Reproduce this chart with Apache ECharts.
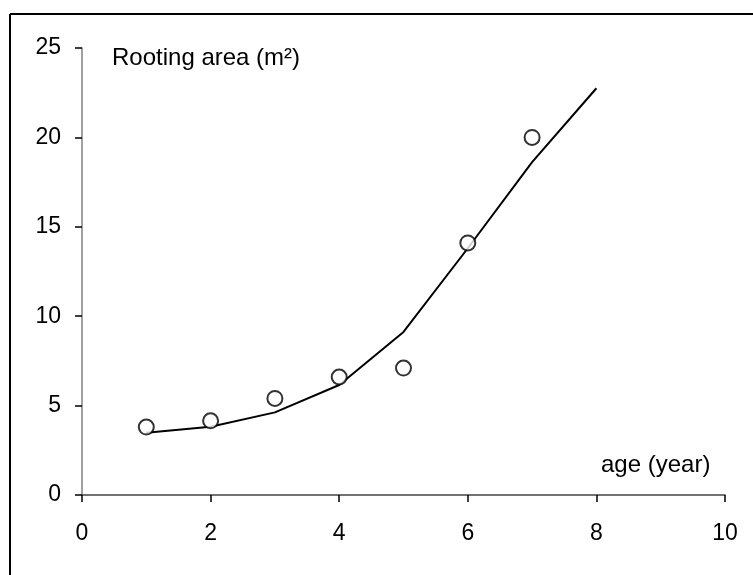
<!DOCTYPE html>
<html>
<head>
<meta charset="utf-8">
<script src="https://cdn.jsdelivr.net/npm/echarts@6/dist/echarts.min.js"></script>
<style>
html,body{margin:0;padding:0;background:#fff;}
#chart{width:753px;height:575px;}
</style>
</head>
<body>
<div id="chart"></div>
<script>
const ages = [1, 2, 3, 4, 5, 6, 7];
const observed = [3.8, 4.15, 5.4, 6.6, 7.1, 14.1, 20.0];
const fitAges = [1, 2, 3, 4, 5, 6, 7, 8];
const fitted = [3.48, 3.82, 4.62, 6.15, 9.12, 13.8, 18.62, 22.75];
const xTicks = [0, 2, 4, 6, 8, 10];
const yTicks = [0, 5, 10, 15, 20, 25];

const FONT = '"Liberation Sans", Arial, sans-serif';
const chart = echarts.init(document.getElementById('chart'));
chart.setOption({
  backgroundColor: '#fff',
  animation: false,
  grid: { left: 82, right: 28, top: 48, bottom: 80 },
  xAxis: {
    type: 'value', min: 0, max: 10, interval: 2,
    axisLine: { show: true, lineStyle: { color: '#444', width: 1.5 } },
    axisTick: { show: true, length: 7, lineStyle: { color: '#000', width: 1.5 } },
    splitLine: { show: false },
    axisLabel: { margin: 27, color: '#000', fontSize: 23, fontFamily: FONT,
      formatter: v => xTicks.includes(v) ? String(v) : '' }
  },
  yAxis: {
    type: 'value', min: 0, max: 25, interval: 5,
    axisLine: { show: true, lineStyle: { color: '#808080', width: 1.5 } },
    axisTick: { show: true, length: 7, lineStyle: { color: '#000', width: 1.5 } },
    splitLine: { show: false },
    axisLabel: { margin: 21, color: '#000', fontSize: 23, fontFamily: FONT,
      formatter: v => yTicks.includes(v) ? String(v) : '' }
  },
  graphic: [
    { type: 'line', shape: { x1: 10, y1: 14, x2: 753, y2: 14 }, style: { stroke: '#000', lineWidth: 2 } },
    { type: 'line', shape: { x1: 10, y1: 14, x2: 10, y2: 575 }, style: { stroke: '#000', lineWidth: 2 } },
    { type: 'text', left: 112, top: 46, style: { text: 'Rooting area (m²)', font: '24px ' + FONT, fill: '#000' } },
    { type: 'text', left: 601, top: 453, style: { text: 'age (year)', font: '24px ' + FONT, fill: '#000' } }
  ],
  series: [
    {
      type: 'line',
      data: fitAges.map((a, i) => [a, fitted[i]]),
      showSymbol: false,
      symbol: 'none',
      lineStyle: { color: '#000', width: 2 },
      z: 2
    },
    {
      type: 'scatter',
      data: ages.map((a, i) => [a, observed[i]]),
      symbol: 'circle',
      symbolSize: 15,
      itemStyle: { color: '#fff', borderColor: '#000', borderWidth: 2 },
      z: 3
    }
  ]
});
</script>
</body>
</html>
